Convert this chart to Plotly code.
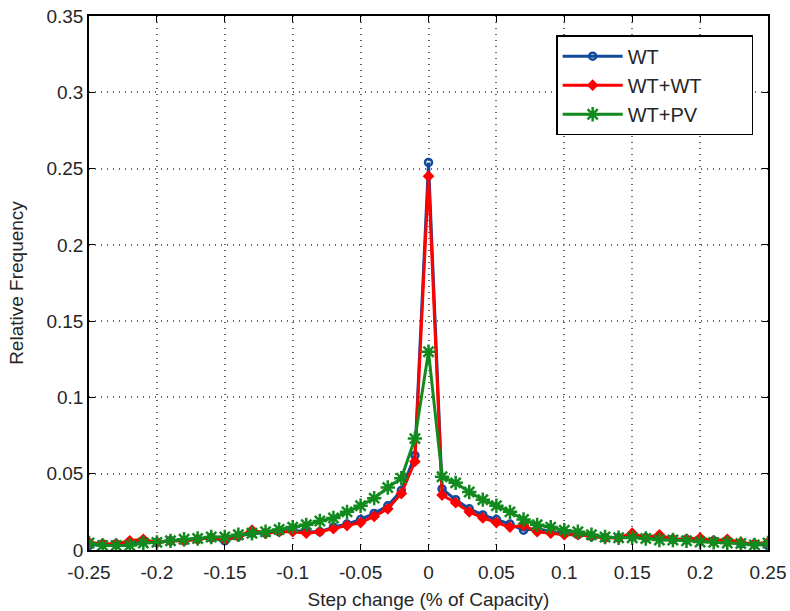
import plotly.graph_objects as go

# Step-change bins (fraction of capacity)
step = [round(-0.25 + 0.01 * i, 2) for i in range(51)]

freq_wt = [
    0.003, 0.004, 0.004, 0.005, 0.006, 0.005, 0.006, 0.006, 0.007, 0.008,
    0.006, 0.009, 0.011, 0.011, 0.012, 0.013, 0.012, 0.012, 0.015, 0.017,
    0.020, 0.024, 0.029, 0.039, 0.062, 0.254, 0.040, 0.033, 0.027, 0.023,
    0.020, 0.017, 0.013, 0.014, 0.012, 0.011, 0.010, 0.009, 0.008, 0.008,
    0.009, 0.008, 0.009, 0.007, 0.007, 0.007, 0.006, 0.006, 0.004, 0.004,
    0.003,
]

freq_wtwt = [
    0.005, 0.004, 0.004, 0.006, 0.007, 0.005, 0.006, 0.006, 0.007, 0.008,
    0.007, 0.009, 0.013, 0.011, 0.012, 0.012, 0.011, 0.012, 0.014, 0.016,
    0.018, 0.022, 0.027, 0.037, 0.058, 0.245, 0.036, 0.031, 0.025, 0.021,
    0.018, 0.015, 0.016, 0.012, 0.011, 0.010, 0.010, 0.009, 0.008, 0.008,
    0.011, 0.008, 0.010, 0.007, 0.007, 0.008, 0.006, 0.007, 0.005, 0.004,
    0.005,
]

freq_wtpv = [
    0.0046, 0.003, 0.003, 0.003, 0.0046, 0.005, 0.006, 0.007, 0.0075, 0.0085,
    0.0085, 0.010, 0.011, 0.012, 0.0135, 0.015, 0.0165, 0.019, 0.021, 0.025,
    0.029, 0.034, 0.041, 0.047, 0.073, 0.130, 0.048, 0.044, 0.038, 0.033,
    0.029, 0.025, 0.020, 0.0165, 0.015, 0.013, 0.012, 0.010, 0.0085, 0.008,
    0.008, 0.0075, 0.0066, 0.0066, 0.006, 0.0052, 0.005, 0.0046, 0.0042, 0.0033,
    0.0046,
]

series_names = ["WT", "WT+WT", "WT+PV"]

x_ticks = [-0.25, -0.2, -0.15, -0.1, -0.05, 0, 0.05, 0.1, 0.15, 0.2, 0.25]
x_tick_labels = ["-0.25", "-0.2", "-0.15", "-0.1", "-0.05", "0", "0.05", "0.1", "0.15", "0.2", "0.25"]
y_ticks = [0, 0.05, 0.1, 0.15, 0.2, 0.25, 0.3, 0.35]
y_tick_labels = ["0", "0.05", "0.1", "0.15", "0.2", "0.25", "0.3", "0.35"]

BLUE = "#134a9c"
RED = "#ff0000"
GREEN = "#118a1e"
TEXT = "#262626"
FONT = "Liberation Sans, Arial, sans-serif"
PAD = "\u00a0" * 8  # widens the legend box on the right

fig = go.Figure()
fig.add_trace(go.Scatter(
    x=step, y=freq_wt, name=series_names[0] + PAD, mode="lines+markers",
    line=dict(color=BLUE, width=3),
    marker=dict(symbol="circle-open", size=7, color=BLUE, line=dict(color=BLUE, width=2.5)),
))
fig.add_trace(go.Scatter(
    x=step, y=freq_wtwt, name=series_names[1] + PAD, mode="lines+markers",
    line=dict(color=RED, width=3),
    marker=dict(symbol="diamond", size=9, color=RED),
))
fig.add_trace(go.Scatter(
    x=step, y=freq_wtpv, name=series_names[2] + PAD, mode="lines+markers",
    line=dict(color=GREEN, width=3),
    marker=dict(symbol="asterisk-open", size=12, color=GREEN, line=dict(color=GREEN, width=2.5)),
))

axis_common = dict(
    showline=True, linecolor="black", linewidth=1.5, mirror="ticks",
    ticks="inside", ticklen=6, tickcolor="black", tickwidth=1,
    showgrid=True, gridcolor="#666666", griddash="1px,5px", gridwidth=1.5,
    zeroline=False, automargin=False,
    tickfont=dict(family=FONT, size=19, color=TEXT),
)

fig.update_xaxes(
    range=[-0.25, 0.25], tickvals=x_ticks, ticktext=x_tick_labels,
    ticklabelstandoff=4,
    title=dict(text="Step change (% of Capacity)", font=dict(family=FONT, size=19, color=TEXT), standoff=11),
    **axis_common,
)
fig.update_yaxes(
    range=[0, 0.35], tickvals=y_ticks, ticktext=y_tick_labels,
    title=dict(text="Relative Frequency", font=dict(family=FONT, size=19, color=TEXT), standoff=18),
    **axis_common,
)

fig.update_layout(
    width=790, height=611,
    margin=dict(l=89, r=22, t=16, b=61),
    paper_bgcolor="white", plot_bgcolor="white",
    font=dict(family=FONT, size=19, color=TEXT),
    legend=dict(
        x=0.688, y=0.964, xanchor="left", yanchor="top",
        bgcolor="white", bordercolor="black", borderwidth=1.5,
        font=dict(family=FONT, size=20, color=TEXT),
        itemwidth=60, tracegroupgap=0,
    ),
    showlegend=True,
)

fig.write_html("out.html")
